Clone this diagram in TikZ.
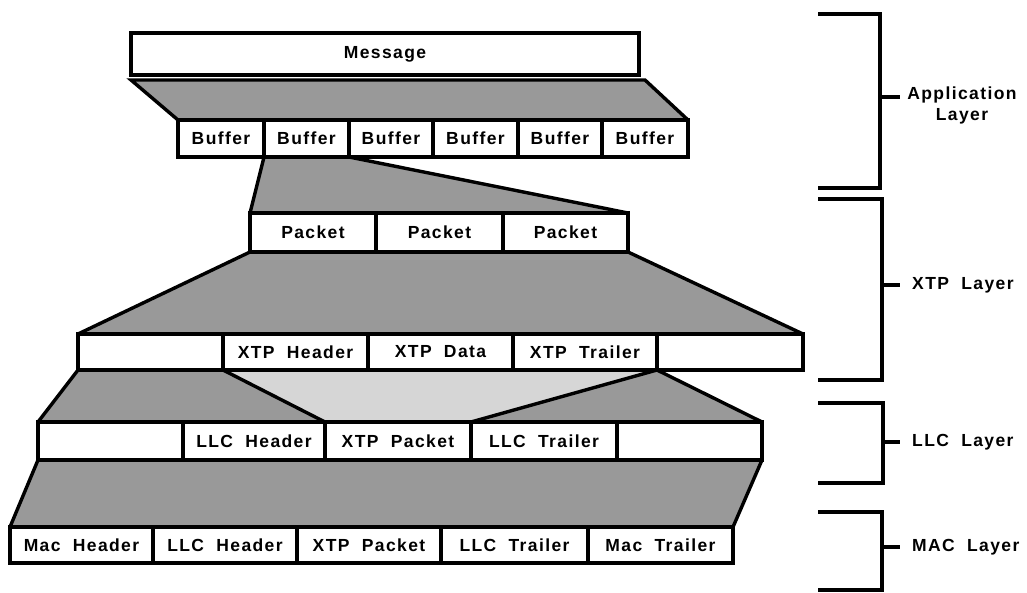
\documentclass[tikz,border=0pt]{standalone}
\usepackage{fontspec}
\setmainfont{Liberation Sans}[LetterSpace=8]
\newcommand{\wg}{\hspace{0.7em}}
\begin{document}
\begin{tikzpicture}[x=1pt,y=-1pt,
  cell/.style={draw=black, line width=3.4pt, fill=white, anchor=north west,
    inner sep=0pt, outer sep=0pt, font=\fontsize{17.5}{21}\selectfont\bfseries},
  dark/.style={fill=black!40},
  light/.style={fill=black!16},
  edge/.style={line width=3.4pt, line join=miter},
  brk/.style={line width=4.8pt, line join=miter},
  lbl/.style={font=\fontsize{17.5}{21}\selectfont\bfseries, align=center, inner sep=0pt}]
\useasboundingbox (0,0) rectangle (1027,593);

% ---- named coordinates for the top shaded region
\coordinate (t1l) at (131,80);
\coordinate (t1r) at (645,80);

% ---- shaded regions
\fill[dark] (t1l) -- (t1r) -- (688,120) -- (178,120) -- cycle;
\draw[edge] (178,120) -- (t1l) -- (t1r) -- (688,120);

\fill[dark] (264,157) -- (349,157) -- (628,213) -- (250,213) -- cycle;
\draw[edge] (264,157) -- (250,213);
\draw[edge] (349,157) -- (628,213);

\fill[dark] (250,252) -- (628,252) -- (803,334) -- (78,334) -- cycle;
\draw[edge] (250,252) -- (78,334);
\draw[edge] (628,252) -- (803,334);

\fill[light] (223,370) -- (657,370) -- (471,422) -- (325,422) -- cycle;
\fill[dark] (78,370) -- (223,370) -- (325,422) -- (38,422) -- cycle;
\fill[dark] (657,370) -- (762,422) -- (471,422) -- cycle;
\draw[edge] (78,370) -- (38,422);
\draw[edge] (223,370) -- (325,422);
\draw[edge] (471,422) -- (657,370) -- (762,422);

\fill[dark] (38,460) -- (762,460) -- (733,527) -- (10,527) -- cycle;
\draw[edge] (38,460) -- (10,527);
\draw[edge] (762,460) -- (733,527);

% ---- Message
\node[cell, minimum width=508pt, minimum height=42pt] (msg) at (131,33) {Message};

% ---- Buffers
\node[cell, minimum width=86pt, minimum height=37pt] (b1) at (178,120) {Buffer};
\node[cell, minimum width=85pt, minimum height=37pt] (b2) at (264,120) {Buffer};
\node[cell, minimum width=84pt, minimum height=37pt] (b3) at (349,120) {Buffer};
\node[cell, minimum width=85pt, minimum height=37pt] (b4) at (433,120) {Buffer};
\node[cell, minimum width=84pt, minimum height=37pt] (b5) at (518,120) {Buffer};
\node[cell, minimum width=86pt, minimum height=37pt] (b6) at (602,120) {Buffer};

% ---- Packets
\node[cell, minimum width=126pt, minimum height=39pt] (p1) at (250,213) {Packet};
\node[cell, minimum width=127pt, minimum height=39pt] (p2) at (376,213) {Packet};
\node[cell, minimum width=125pt, minimum height=39pt] (p3) at (503,213) {Packet};

% ---- XTP row
\node[cell, minimum width=145pt, minimum height=36pt] (x1) at (78,334) {};
\node[cell, minimum width=145pt, minimum height=36pt] (x2) at (223,334) {XTP\wg Header};
\node[cell, minimum width=145pt, minimum height=36pt] (x3) at (368,334) {XTP\wg Data};
\node[cell, minimum width=144pt, minimum height=36pt] (x4) at (513,334) {XTP\wg Trailer};
\node[cell, minimum width=146pt, minimum height=36pt] (x5) at (657,334) {};

% ---- LLC row
\node[cell, minimum width=145pt, minimum height=38pt] (l1) at (38,422) {};
\node[cell, minimum width=142pt, minimum height=38pt] (l2) at (183,422) {LLC\wg Header};
\node[cell, minimum width=146pt, minimum height=38pt] (l3) at (325,422) {XTP\wg Packet};
\node[cell, minimum width=146pt, minimum height=38pt] (l4) at (471,422) {LLC\wg Trailer};
\node[cell, minimum width=145pt, minimum height=38pt] (l5) at (617,422) {};

% ---- MAC row
\node[cell, minimum width=143pt, minimum height=36pt] (m1) at (10,527) {Mac\wg Header};
\node[cell, minimum width=144pt, minimum height=36pt] (m2) at (153,527) {LLC\wg Header};
\node[cell, minimum width=144pt, minimum height=36pt] (m3) at (297,527) {XTP\wg Packet};
\node[cell, minimum width=147pt, minimum height=36pt] (m4) at (441,527) {LLC\wg Trailer};
\node[cell, minimum width=145pt, minimum height=36pt] (m5) at (588,527) {Mac\wg Trailer};

% ---- brackets and labels
\node[lbl] (appl) at (962,105) {Application\\Layer};
\node[lbl, anchor=west] (xtpl) at (912,285) {XTP\wg Layer};
\node[lbl, anchor=west] (llcl) at (912,442) {LLC\wg Layer};
\node[lbl, anchor=west] (macl) at (912,547) {MAC\wg Layer};

\draw[brk] (818,14) -- (880,14) -- (880,188) -- (818,188);
\draw[brk] (880,97) -- (900,97);
\draw[brk] (818,199) -- (882,199) -- (882,380) -- (818,380);
\draw[brk] (882,285) -- (900,285);
\draw[brk] (818,403) -- (883,403) -- (883,483) -- (818,483);
\draw[brk] (883,442) -- (900,442);
\draw[brk] (818,512) -- (882,512) -- (882,590) -- (818,590);
\draw[brk] (882,547) -- (900,547);
\end{tikzpicture}
\end{document}
